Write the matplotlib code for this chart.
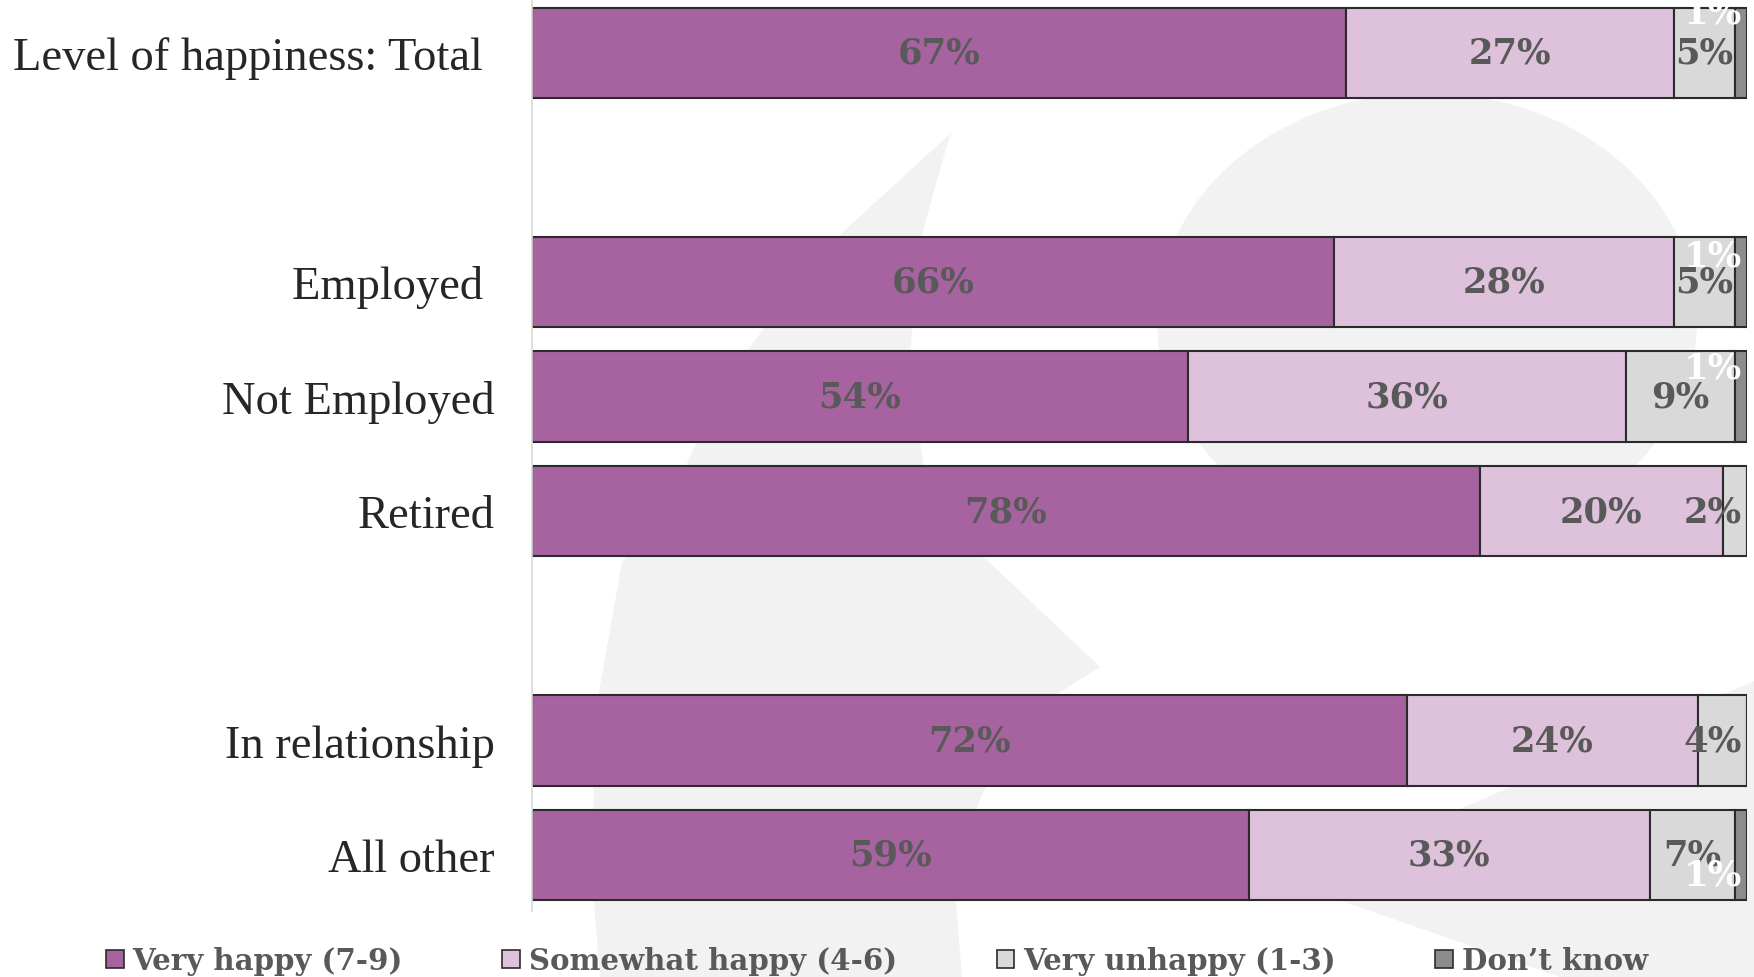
import matplotlib
matplotlib.use("Agg")
import matplotlib.pyplot as plt
from matplotlib.patches import Polygon, Ellipse, Patch

# ---------------- data ----------------
categories = ["Level of happiness: Total ", "Employed ", "Not Employed",
              "Retired", "In relationship", "All other"]
series_names = ["Very happy (7-9)", "Somewhat happy (4-6)",
                "Very unhappy (1-3)", "Don\u2019t know"]
very_happy = [67, 66, 54, 78, 72, 59]
somewhat_happy = [27, 28, 36, 20, 24, 33]
very_unhappy = [5, 5, 9, 2, 4, 7]
dont_know = [1, 1, 1, 0, 0, 1]

# ---------------- style ----------------
colors = ["#A663A0", "#DEC2DC", "#D9D9D9", "#8C8C8C"]
label_colors = ["#595959", "#595959", "#595959", "white"]
dk_nudge = [-29, -19, -21, 0, 0, 14]      # vertical offsets (pt) of "Don't know" labels
row_pos = [0, 2, 3, 4, 6, 7]               # gaps between the groups of rows

W, H = 1754, 978
fig = plt.figure(figsize=(W / 100, H / 100), dpi=100)
fig.patch.set_facecolor("white")

# faint watermark logo in the background (pixel coordinates)
bg = fig.add_axes([0, 0, 1, 1], zorder=0)
bg.set_xlim(0, W)
bg.set_ylim(H, 0)
bg.axis("off")
wm = "#F2F2F2"
bg.add_patch(Ellipse((1427, 322), 540, 456, facecolor=wm, edgecolor="none"))
bg.add_patch(Polygon([(951, 134), (947, 146), (917, 253), (909, 376), (932, 517),
                      (989, 563), (1100, 668), (1024, 716), (980, 800), (955, 890),
                      (962, 978), (600, 978), (592, 880), (595, 716), (622, 563),
                      (660, 521), (729, 376), (821, 253)],
                     closed=True, facecolor=wm, edgecolor="none"))
bg.add_patch(Polygon([(1754, 682), (1290, 884), (1560, 978), (1754, 978)],
                     closed=True, facecolor=wm, edgecolor="none"))

# ---------------- main axes ----------------
ax = fig.add_axes([532 / W, 1 - 912 / H, (1747 - 532) / W, 912 / H], zorder=1)
ax.patch.set_alpha(0)

series = [very_happy, somewhat_happy, very_unhappy, dont_know]
lefts = [0] * len(categories)
texts = []
for si, vals in enumerate(series):
    ax.barh(row_pos, vals, left=lefts, height=0.79, color=colors[si],
            edgecolor="#2b2b2b", linewidth=1.5, label=series_names[si], zorder=2)
    for ri, v in enumerate(vals):
        if v > 0:
            dy = dk_nudge[ri] if si == 3 else 0
            t = ax.annotate(f"{v}%", (lefts[ri] + v / 2, row_pos[ri]),
                            xytext=(0, -dy), textcoords="offset points",
                            ha="center", va="center", fontsize=25.5,
                            fontweight="bold", family="DejaVu Serif",
                            color=label_colors[si], zorder=3)
            texts.append(t)
    lefts = [l + v for l, v in zip(lefts, vals)]

ax.set_xlim(0, 100)
ax.set_ylim(7.49, -0.47)
ax.set_xticks([])
ax.set_yticks(row_pos)
ax.set_yticklabels(categories, fontsize=33.5, family="Liberation Serif", color="#262626")
ax.tick_params(axis="y", length=0, pad=27)
for s in ["top", "right", "bottom"]:
    ax.spines[s].set_visible(False)
ax.spines["left"].set_color("#D9D9D9")
ax.spines["left"].set_linewidth(1.2)

# keep labels inside the chart area on the right (as the original does)
fig.canvas.draw()
renderer = fig.canvas.get_renderer()
limit = 1742
for t in texts:
    bb = t.get_window_extent(renderer)
    if bb.x1 > limit:
        dx = (limit - bb.x1) * 72 / 100
        t.xyann = (t.xyann[0] + dx, t.xyann[1])

handles = [Patch(facecolor=c, edgecolor="#2b2b2b", linewidth=1.2) for c in colors]
leg = fig.legend(handles, series_names, loc="center left",
                 bbox_to_anchor=(106 / W, (H - 962) / H), ncol=4, frameon=False,
                 borderpad=0, borderaxespad=0, handlelength=0.6, handleheight=0.6,
                 handletextpad=0.3, columnspacing=3.4,
                 prop={"family": "DejaVu Serif", "weight": "bold", "size": 21.1})
for txt in leg.get_texts():
    txt.set_color("#595959")

fig.savefig("out.png", dpi=100, facecolor="white")
